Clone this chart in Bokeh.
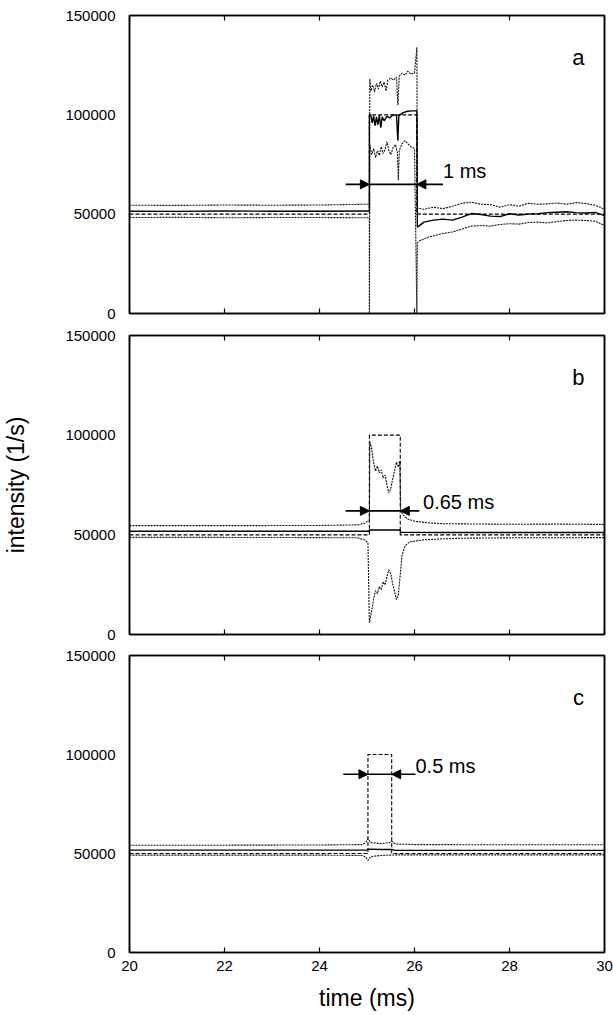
from bokeh.plotting import figure
from bokeh.layouts import column
from bokeh.models import Range1d, FixedTicker, LinearAxis, Arrow, NormalHead, Label
from bokeh.embed import file_html
from bokeh.resources import INLINE

FONT = "Liberation Sans"

x_ticks = [20, 22, 24, 26, 28, 30]
x_tick_labels = ["20", "22", "24", "26", "28", "30"]
y_ticks = [0, 50000, 100000, 150000]
y_tick_labels = ["0", "50000", "100000", "150000"]
x_label = "time (ms)"
y_label = "intensity (1/s)"

# ---------------- panel a (1 ms pulse) ----------------
a_ideal_t = [20, 25.05, 25.05, 26.05, 26.05, 30]
a_ideal_v = [50000, 50000, 100000, 100000, 50000, 50000]

a_mean_t = [20, 21, 22, 23, 24, 25.0, 25.05, 25.05, 25.08, 25.11,
            25.14, 25.17, 25.2, 25.23, 25.26, 25.29, 25.32, 25.36, 25.42, 25.48,
            25.55, 25.62, 25.65, 25.67, 25.75, 25.85, 25.95, 26.05, 26.06, 26.2,
            26.4, 26.6, 26.8, 27.0, 27.2, 27.4, 27.6, 27.8, 28.0, 28.2,
            28.4, 28.6, 28.8, 29.0, 29.2, 29.4, 29.6, 29.8, 30.0]
a_mean_v = [51500, 51400, 51600, 51500, 51500, 51600, 51600, 100000, 100000, 96000,
            99500, 94500, 99000, 95000, 99800, 93500, 99000, 97000, 99200, 98500,
            100000, 99800, 87000, 99500, 101000, 101800, 102000, 102000, 43500, 46000,
            47000, 47500, 47000, 48500, 50300, 49800, 49000, 48800, 50200, 49600,
            50000, 50200, 50800, 51000, 51200, 50800, 50600, 50900, 49300]

a_hi_t = [20, 21, 22, 23, 24, 25.0, 25.05, 25.06, 25.08, 25.12,
          25.16, 25.2, 25.24, 25.28, 25.32, 25.36, 25.4, 25.44, 25.5, 25.56,
          25.62, 25.65, 25.68, 25.74, 25.8, 25.86, 25.92, 26.0, 26.05, 26.06,
          26.2, 26.4, 26.6, 26.8, 27.0, 27.2, 27.4, 27.6, 27.8, 28.0,
          28.2, 28.4, 28.6, 28.8, 29.0, 29.2, 29.4, 29.6, 29.8, 30.0]
a_hi_v = [54500, 54400, 54600, 54500, 54600, 55000, 55000, 118000, 112000, 115000,
          111500, 116000, 113000, 117000, 114000, 116500, 112000, 117500, 118500, 117500,
          119000, 105000, 119500, 121000, 120000, 122000, 120500, 121000, 134000, 53000,
          52500, 53500, 52800, 54000, 55500, 56000, 55000, 54800, 53500, 54800,
          54000, 55500, 55000, 55200, 55600, 55000, 55800, 55400, 54500, 52500]

a_lo_t = [20, 21, 22, 23, 24, 25.0, 25.05, 25.05, 25.06, 25.1,
          25.14, 25.18, 25.22, 25.26, 25.3, 25.34, 25.38, 25.42, 25.46, 25.5,
          25.55, 25.6, 25.64, 25.66, 25.68, 25.74, 25.8, 25.86, 25.92, 26.0,
          26.05, 26.06, 26.1, 26.3, 26.6, 26.8, 27.0, 27.2, 27.4, 27.6,
          27.8, 28.0, 28.2, 28.4, 28.6, 28.8, 29.0, 29.2, 29.4, 29.6,
          29.8, 30.0]
a_lo_v = [48300, 48400, 48200, 48300, 48300, 48200, 48200, 0, 85000, 80000,
          83000, 78500, 82000, 79500, 84000, 80500, 82500, 86500, 82000, 80000,
          83500, 85000, 81000, 67000, 82000, 85500, 87000, 85500, 84000, 83000,
          0, 35500, 36500, 38500, 40300, 41000, 42500, 44000, 44300, 44000,
          44800, 45200, 45000, 45800, 46000, 45600, 46300, 46800, 47000, 46800,
          46500, 44300]

# ---------------- panel b (0.65 ms pulse) ----------------
b_ideal_t = [20, 25.05, 25.05, 25.70, 25.70, 30]
b_ideal_v = [50000, 50000, 100000, 100000, 50000, 50000]

b_mean_t = [20, 22, 24, 25.0, 25.05, 25.05, 25.4, 25.70, 25.70, 26.5, 28, 30]
b_mean_v = [51800, 51800, 51800, 51800, 51800, 52500, 52400, 52500, 51300, 51200, 51200, 51200]

b_hi_t = [20, 22, 24, 24.8, 24.95, 25.02, 25.05, 25.06, 25.1, 25.14,
          25.18, 25.22, 25.26, 25.3, 25.34, 25.38, 25.42, 25.46, 25.5, 25.54,
          25.58, 25.62, 25.66, 25.69, 25.71, 25.76, 25.85, 26.0, 26.3, 26.6,
          27, 28, 29, 30]
b_hi_v = [54600, 54600, 54700, 55000, 55800, 57000, 57000, 97000, 93000, 86000,
          82000, 84500, 81000, 82500, 78500, 80000, 75000, 71000, 73000, 78000,
          82000, 86500, 84000, 87000, 62000, 60000, 58000, 56800, 56000, 55600,
          55500, 55300, 55400, 55200]

b_lo_t = [20, 22, 24, 24.8, 24.95, 25.02, 25.05, 25.1, 25.14, 25.18,
          25.22, 25.26, 25.3, 25.34, 25.38, 25.42, 25.46, 25.5, 25.54, 25.58,
          25.62, 25.66, 25.7, 25.74, 25.8, 25.9, 26.2, 26.6, 27, 28,
          30]
b_lo_v = [48700, 48700, 48600, 48500, 47500, 46000, 6000, 12000, 18000, 22000,
          20500, 24000, 22500, 26500, 25000, 29000, 32500, 30500, 25500, 21500,
          17500, 20000, 30000, 40000, 44500, 46500, 47500, 48000, 48300, 48500,
          48600]

# ---------------- panel c (0.5 ms pulse) ----------------
c_ideal_t = [20, 25.02, 25.02, 25.52, 25.52, 30]
c_ideal_v = [50000, 50000, 100000, 100000, 50000, 50000]

c_mean_t = [20, 22, 24, 25.0, 25.02, 25.3, 25.52, 25.6, 27, 30]
c_mean_v = [51700, 51700, 51700, 51700, 52200, 52000, 52100, 51600, 51600, 51600]

c_hi_t = [20, 22, 24, 24.9, 24.97, 25.02, 25.08, 25.3, 25.47, 25.52, 25.6, 26, 28, 30]
c_hi_v = [54200, 54200, 54300, 54500, 55500, 57500, 55500, 55000, 55500, 56200, 54800, 54500, 54400, 54400]

c_lo_t = [20, 22, 24, 24.9, 24.97, 25.02, 25.08, 25.3, 25.5, 25.6, 26, 28, 30]
c_lo_v = [49200, 49200, 49200, 49000, 48300, 46500, 48500, 49000, 49200, 49300, 49300, 49300, 49300]

# annotation values: [pulse start, pulse end, arrow level, left arrow tail, right arrow tail]
a_marker = [25.05, 26.05, 65000, 24.55, 26.6]
b_marker = [25.05, 25.70, 62000, 24.55, 26.1]
c_marker = [25.02, 25.52, 90000, 24.5, 26.02]
# width texts and their anchor [x, y]
a_width_text, a_width_pos = "1 ms", [26.6, 71500]
b_width_text, b_width_pos = "0.65 ms", [26.18, 66500]
c_width_text, c_width_pos = "0.5 ms", [26.02, 94300]
panel_letters = ["a", "b", "c"]
letter_pos = [29.45, 129000]

DOT = "#111111"


def style_axis(ax, ticks, labels, tick_len):
    ax.ticker = FixedTicker(ticks=ticks)
    ax.major_label_overrides = {t: l for t, l in zip(ticks, labels)}
    ax.major_tick_in = tick_len
    ax.major_tick_out = 0
    ax.minor_tick_in = 0
    ax.minor_tick_out = 0
    ax.axis_line_width = 1.5
    ax.axis_line_color = "black"
    ax.major_tick_line_width = 1.2
    ax.major_label_text_font = FONT
    ax.major_label_text_font_size = "15px"
    ax.major_label_text_color = "black"
    ax.axis_label_text_font = FONT
    ax.axis_label_text_font_style = "normal"
    ax.axis_label_text_font_size = "23px"
    ax.axis_label_text_color = "black"


def hide_labels(ax):
    ax.major_label_text_font_size = "0px"
    ax.major_label_text_color = None
    ax.major_label_standoff = 0


def make_panel(series, marker, wtext, wpos, letter, bottom_labels, ylab,
               top, bottom, fh):
    p = figure(frame_width=475, frame_height=fh,
               x_range=Range1d(20, 30), y_range=Range1d(0, 150000),
               output_backend="svg", toolbar_location=None,
               min_border_left=128, min_border_right=10,
               min_border_top=top, min_border_bottom=bottom,
               background_fill_color="white", border_fill_color="white")
    p.xgrid.visible = False
    p.ygrid.visible = False
    p.outline_line_color = "black"
    p.outline_line_width = 1.5

    style_axis(p.xaxis[0], x_ticks, x_tick_labels, 5)
    style_axis(p.yaxis[0], y_ticks, y_tick_labels, 0)
    p.yaxis[0].major_label_standoff = 14
    p.xaxis[0].major_label_standoff = 8
    if not bottom_labels:
        hide_labels(p.xaxis[0])
    else:
        p.xaxis[0].axis_label = x_label
        p.xaxis[0].axis_label_standoff = 11
    if ylab:
        p.yaxis[0].axis_label = y_label
        p.yaxis[0].axis_label_standoff = 33

    for side, ticks, labels, tl in (("above", x_ticks, x_tick_labels, 5),
                                    ("right", y_ticks, y_tick_labels, 0)):
        ax = LinearAxis()
        style_axis(ax, ticks, labels, tl)
        hide_labels(ax)
        p.add_layout(ax, side)

    (it, iv), (mt, mv), (ht, hv), (lt, lv) = series
    p.line(ht, hv, line_color=DOT, line_width=1.1, line_dash="2 1")
    p.line(lt, lv, line_color=DOT, line_width=1.1, line_dash="2 1")
    p.line(it, iv, line_color="black", line_width=1.1, line_dash="4 2")
    p.line(mt, mv, line_color="black", line_width=1.4)

    ps, pe, ay, al, ar = marker
    p.segment(x0=[ps], y0=[ay], x1=[pe], y1=[ay], line_color="black", line_width=1.6)
    for xs, xe in ((al, ps), (ar, pe)):
        p.add_layout(Arrow(end=NormalHead(size=9, fill_color="black", line_color="black"),
                           x_start=xs, y_start=ay, x_end=xe, y_end=ay,
                           line_color="black", line_width=1.6))
    p.add_layout(Label(x=wpos[0], y=wpos[1], text=wtext, text_font=FONT,
                       text_font_size="20px", text_color="black",
                       text_baseline="alphabetic", text_align="left"))
    p.add_layout(Label(x=letter_pos[0], y=letter_pos[1], text=letter, text_font=FONT,
                       text_font_size="22px", text_color="black",
                       text_baseline="middle", text_align="center"))
    return p


pa = make_panel([(a_ideal_t, a_ideal_v), (a_mean_t, a_mean_v), (a_hi_t, a_hi_v), (a_lo_t, a_lo_v)],
                a_marker, a_width_text, a_width_pos, panel_letters[0], False, False, 15, 11, 298)
pb = make_panel([(b_ideal_t, b_ideal_v), (b_mean_t, b_mean_v), (b_hi_t, b_hi_v), (b_lo_t, b_lo_v)],
                b_marker, b_width_text, b_width_pos, panel_letters[1], False, True, 11, 10, 299)
pc = make_panel([(c_ideal_t, c_ideal_v), (c_mean_t, c_mean_v), (c_hi_t, c_hi_v), (c_lo_t, c_lo_v)],
                c_marker, c_width_text, c_width_pos, panel_letters[2], True, False, 11, 60, 297)

layout = column(pa, pb, pc, spacing=0)
open("out.html", "w").write(file_html(layout, INLINE))
